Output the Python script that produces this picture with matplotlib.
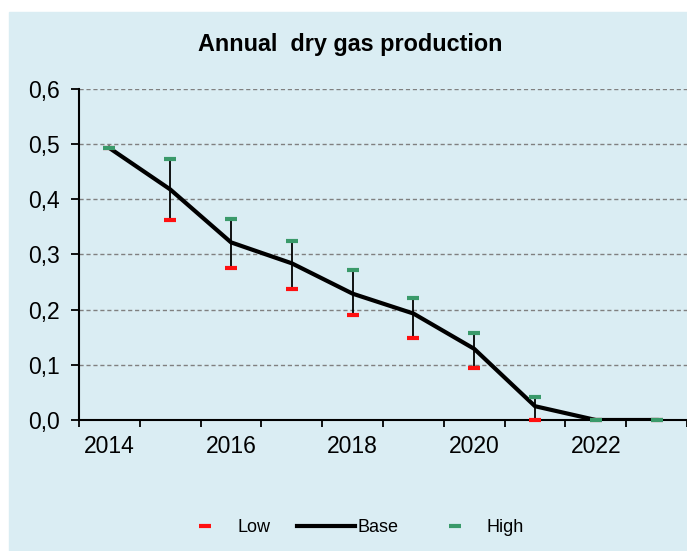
import matplotlib

matplotlib.use("Agg")
import matplotlib.pyplot as plt
from matplotlib.lines import Line2D
from matplotlib.patches import Rectangle
from matplotlib.ticker import FixedLocator, FuncFormatter

plt.rcParams["font.family"] = ["Liberation Sans", "DejaVu Sans"]

# values
years = [2014, 2015, 2016, 2017, 2018, 2019, 2020, 2021, 2022, 2023]
base = [0.493, 0.418, 0.322, 0.284, 0.229, 0.193, 0.129, 0.025, 0.0, 0.0]
low = [0.493, 0.362, 0.275, 0.238, 0.191, 0.149, 0.095, 0.0, 0.0, 0.0]
high = [0.493, 0.474, 0.365, 0.325, 0.271, 0.222, 0.158, 0.042, 0.0, 0.0]
yticks = [0.0, 0.1, 0.2, 0.3, 0.4, 0.5, 0.6]

BG = "#daedf3"
RED = "#ff1010"
GREEN = "#3a9a6a"

W, H = 687, 551
fig = plt.figure(figsize=(W / 100, H / 100), dpi=100, facecolor="white")
fig.patches.append(Rectangle((9 / W, 0), 1 - 9 / W, 1 - 12 / H,
                             transform=fig.transFigure, color=BG, zorder=-10))

ax = fig.add_axes([79 / W, 1 - 420 / H, 1 - 79 / W, 331 / H])
ax.set_facecolor(BG)
x = list(range(len(years)))

ax.vlines(x, low, high, color="black", lw=1.3, zorder=3)
ax.plot(x, base, color="black", lw=3, zorder=4, solid_joinstyle="round")
ax.plot(x, low, ls="none", marker="_", ms=8, mew=3, color=RED, zorder=5, clip_on=False)
ax.plot(x, high, ls="none", marker="_", ms=8, mew=3, color=GREEN, zorder=6, clip_on=False)

ax.set_xlim(-0.5, len(years) - 0.5)
ax.set_ylim(0, 0.6)
ax.set_yticks(yticks)
ax.yaxis.set_major_formatter(FuncFormatter(lambda v, _: f"{v:.1f}".replace(".", ",")))
ax.grid(axis="y", color="#808080", ls=(0, (3, 2)), lw=1)
ax.set_axisbelow(True)

ax.set_xticks(x[::2])
ax.set_xticklabels([str(y) for y in years[::2]])
ax.xaxis.set_minor_locator(FixedLocator([i - 0.5 for i in range(len(years) + 1)]))
ax.tick_params(axis="x", which="major", length=0, pad=11, labelsize=16.5)
ax.tick_params(axis="x", which="minor", length=5, width=1.3)
ax.tick_params(axis="y", length=6, width=1.3, pad=8, labelsize=16.5)

for side in ("top", "right"):
    ax.spines[side].set_visible(False)
for side in ("left", "bottom"):
    ax.spines[side].set_linewidth(1.5)

fig.text(350 / W, 1 - 44 / H, "Annual  dry gas production", ha="center", va="center",
         fontsize=16.8, fontweight="bold")

handles = [
    Line2D([], [], ls="none", marker="_", ms=8, mew=3, color=RED),
    Line2D([], [], color="black", lw=3),
    Line2D([], [], ls="none", marker="_", ms=8, mew=3, color=GREEN),
]
fig.legend(handles, ["Low", "Base", "High"], loc="center", ncol=3,
           bbox_to_anchor=(350 / W, 1 - 528 / H), frameon=False, fontsize=13,
           handlelength=3.2, handletextpad=0.15, columnspacing=1.5)

fig.savefig("out.png", dpi=100, facecolor="white")
